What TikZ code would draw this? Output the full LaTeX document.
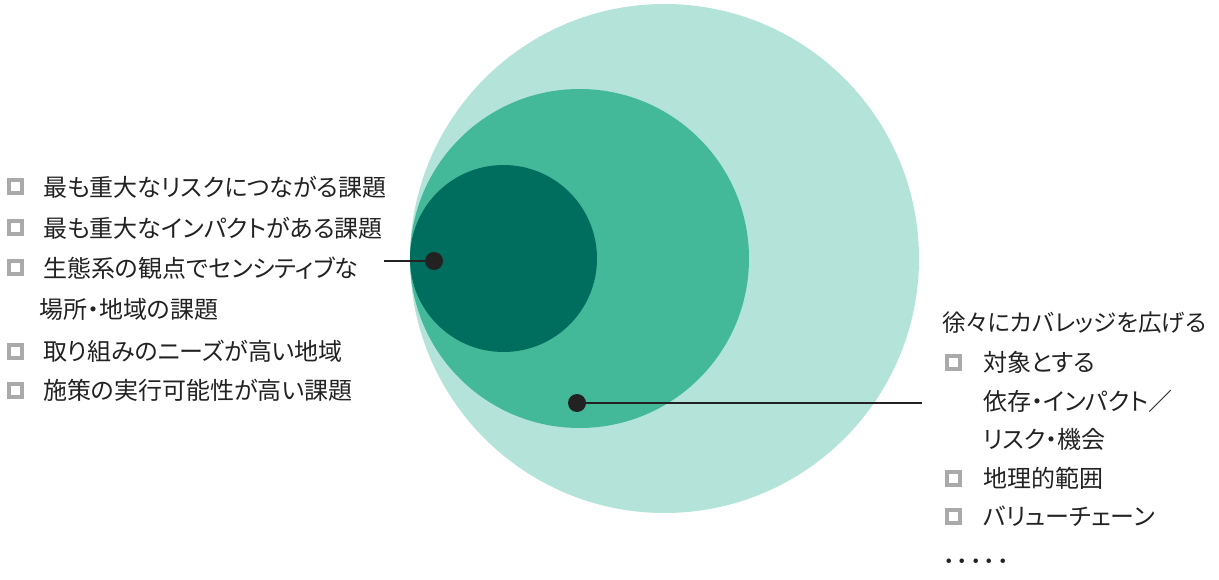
\documentclass[tikz,border=0pt]{standalone}
\usepackage{fontspec}
\setmainfont{Noto Sans CJK JP}[RawFeature=+palt]
\usepackage{xcolor}
\usepackage{tikz}
\usetikzlibrary{positioning}
\definecolor{outer}{HTML}{B4E4D9}
\definecolor{middle}{HTML}{44B99A}
\definecolor{inner}{HTML}{006E5F}
\definecolor{ink}{HTML}{222222}
\definecolor{box}{HTML}{AAAAAA}
\tikzset{
  ring/.style={circle, inner sep=0pt, outer sep=0pt},
  lab/.style={anchor=west, inner sep=0pt, text=ink, font=\fontsize{24}{28}\selectfont},
  chk/.style={draw=box, line width=4pt, minimum size=13pt, inner sep=0pt},
  pin/.style={circle, fill=ink, minimum size=18pt, inner sep=0pt},
  lead/.style={draw=ink, line width=2.4pt},
}
\begin{document}
\begin{tikzpicture}[x=1pt, y=-1pt]
\useasboundingbox (0,0) rectangle (1219,580);
% circles
\node[ring, fill=outer, minimum size=509pt] (big) at (664.5,258.5) {};
\node[ring, fill=middle, minimum size=339pt] (mid) at (579.5,258.5) {};
\node[ring, fill=inner, minimum size=187pt] (core) at (503.5,258.5) {};
% left list
\node[chk] (b1) at (15.5,187) {};
\node[lab] (t1) at (43,187) {最も重大なリスクにつながる課題};
\node[chk] (b2) at (15.5,228) {};
\node[lab] (t2) at (43,228) {最も重大なインパクトがある課題};
\node[chk] (b3) at (15.5,268) {};
\node[lab] (t3) at (43,268) {生態系の観点でセンシティブな};
\node[lab] (t3b) at (39,309) {場所・地域の課題};
\node[chk] (b4) at (15.5,351) {};
\node[lab] (t4) at (43,351) {取り組みのニーズが高い地域};
\node[chk] (b5) at (15.5,390) {};
\node[lab] (t5) at (43,390) {施策の実行可能性が高い課題};
% right list
\node[lab, font=\fontsize{23.5}{28}\selectfont] (head) at (942,323) {徐々にカバレッジを広げる};
\node[chk] (c1) at (953.5,362) {};
\node[lab] (r1) at (983,362) {対象とする};
\node[lab] (r1b) at (983,401) {依存・インパクト／};
\node[lab] (r1c) at (983,439) {リスク・機会};
\node[chk] (c2) at (953.5,478) {};
\node[lab] (r2) at (983,478) {地理的範囲};
\node[chk] (c3) at (953.5,516) {};
\node[lab] (r3) at (983,516) {バリューチェーン};
\node[lab, font=\fontsize{27}{30}\selectfont] (more) at (942,565) {･････};
% leaders
\coordinate (e1) at (384,261);
\coordinate (e2) at (922,403);
\node[pin] (p1) at (434,261) {};
\node[pin] (p2) at (577,403) {};
\draw[lead] (e1) -- (p1);
\draw[lead] (p2) -- (e2);
\end{tikzpicture}
\end{document}
